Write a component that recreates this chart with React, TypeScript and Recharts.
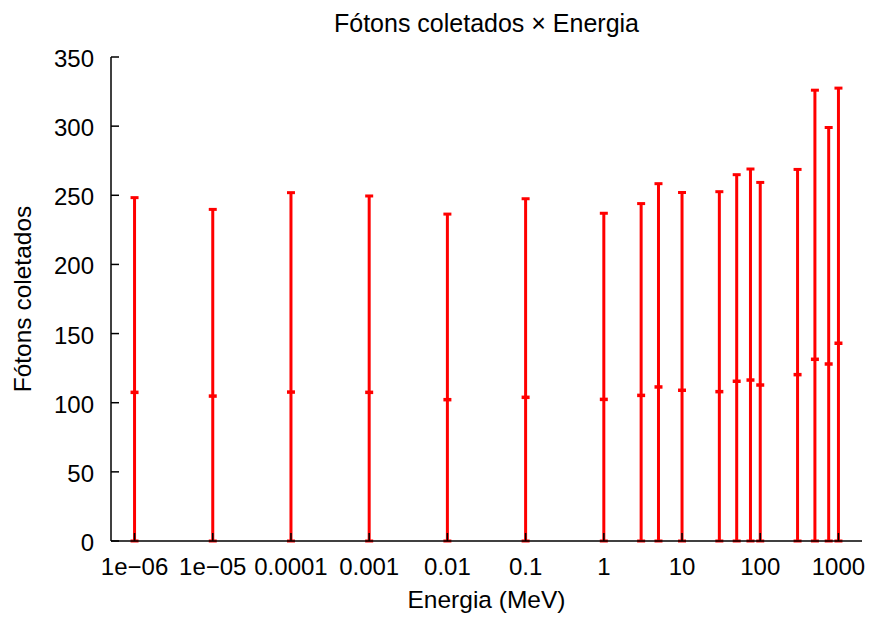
import { ScatterChart, Scatter, XAxis, YAxis, ErrorBar, Label } from "recharts";

// energia do fóton incidente (MeV)
const energies = [1e-6, 1e-5, 1e-4, 1e-3, 0.01, 0.1, 1, 3, 5, 10, 30, 50, 75, 100, 300, 500, 750, 1000];
// média de fótons coletados
const photons = [107.5, 104.8, 107.7, 107.5, 102.2, 103.9, 102.4, 105.3, 111.4, 109, 108, 115.5, 116.4, 112.8, 120.3, 131.4, 128, 143];
// mínimo e máximo observados
const photonsMin = [0, 0, 0, 0, 0, 0, 0, 0, 0, 0, 0, 0, 0, 0, 0, 0, 0, 0];
const photonsMax = [248.3, 239.8, 251.9, 249.5, 236.4, 247.5, 237, 244, 258.4, 252, 252.6, 264.9, 269, 259.3, 268.7, 326, 299, 327.5];

const xTicks = [1e-6, 1e-5, 1e-4, 1e-3, 0.01, 0.1, 1, 10, 100, 1000];
const xTickLabels = ["1e\u221206", "1e\u221205", "0.0001", "0.001", "0.01", "0.1", "1", "10", "100", "1000"];
const yTicks = [0, 50, 100, 150, 200, 250, 300, 350];

const data = energies.map((e, i) => ({
  energy: e,
  photons: photons[i],
  err: [photons[i] - photonsMin[i], photonsMax[i] - photons[i]],
}));

const FONT = "'Liberation Sans', Arial, Helvetica, sans-serif";
const RED = "#ff0000";
const TICK = 8;
const AXIS_W = 1.5;
const TICK_FONT = 24;
const LABEL_FONT = 24.5;

const xLabel = (v: number) => {
  const i = xTicks.findIndex((t) => Math.abs(Math.log10(t) - Math.log10(v)) < 1e-6);
  return i >= 0 ? xTickLabels[i] : String(v);
};

const BottomTick = (props: any) => {
  const { x, y, payload } = props;
  return (
    <g>
      <line x1={x} y1={y} x2={x} y2={y - TICK} stroke="#000" strokeWidth={AXIS_W} />
      <text x={x} y={y + 34} textAnchor="middle" fontSize={TICK_FONT} fontFamily={FONT} fill="#000">
        {xLabel(payload.value)}
      </text>
    </g>
  );
};

const TopTick = (props: any) => {
  const { x, y } = props;
  return <line x1={x} y1={y} x2={x} y2={y + TICK} stroke="#000" strokeWidth={AXIS_W} />;
};

const LeftTick = (props: any) => {
  const { x, y, payload } = props;
  return (
    <g>
      <line x1={x} y1={y} x2={x + TICK} y2={y} stroke="#000" strokeWidth={AXIS_W} />
      <text x={x - 17} y={y} dy={10} textAnchor="end" fontSize={TICK_FONT} fontFamily={FONT} fill="#000">
        {payload.value}
      </text>
    </g>
  );
};

const RightTick = (props: any) => {
  const { x, y } = props;
  return <line x1={x} y1={y} x2={x - TICK} y2={y} stroke="#000" strokeWidth={AXIS_W} />;
};

// rótulo vertical, centrado na altura do gráfico
const YTitle = (props: any) => {
  const { viewBox } = props;
  const cx = 31;
  const cy = viewBox.y + viewBox.height / 2;
  return (
    <text
      x={cx}
      y={cy}
      transform={`rotate(-90, ${cx}, ${cy})`}
      textAnchor="middle"
      fontSize={LABEL_FONT}
      fontFamily={FONT}
      fill="#000"
    >
      Fótons coletados
    </text>
  );
};

// marca do valor médio
const MeanMark = (props: any) => {
  const { cx, cy } = props;
  return <line x1={cx - 4} y1={cy} x2={cx + 4} y2={cy} stroke={RED} strokeWidth={3.5} />;
};

export default function App() {
  return (
    <div style={{ position: "absolute", left: 0, top: 0, width: 873, height: 620, background: "#fff", fontFamily: FONT }}>
      <div
        style={{
          position: "absolute",
          left: 0,
          width: 973,
          top: 11,
          textAlign: "center",
          fontSize: 25,
          lineHeight: 1,
          color: "#000",
        }}
      >
        Fótons coletados × Energia
      </div>
      <ScatterChart width={873} height={620} margin={{ top: 57, right: 11, bottom: 0, left: 0 }}>
        <XAxis
          xAxisId="bottom"
          dataKey="energy"
          type="number"
          scale="log"
          domain={[5e-7, 2000]}
          allowDataOverflow
          ticks={xTicks}
          interval={0}
          height={79}
          tickSize={0}
          tickMargin={0}
          tickLine={false}
          tick={<BottomTick />}
          axisLine={{ stroke: "#000", strokeWidth: AXIS_W }}
        >
          <Label value="Energia (MeV)" position="insideBottom" offset={12} fontSize={LABEL_FONT} fontFamily={FONT} fill="#000" />
        </XAxis>
        <XAxis
          xAxisId="top"
          orientation="top"
          type="number"
          scale="log"
          domain={[5e-7, 2000]}
          allowDataOverflow
          ticks={xTicks}
          interval={0}
          height={0}
          tickSize={0}
          tickMargin={0}
          tickLine={false}
          tick={<TopTick />}
          axisLine={{ stroke: "#000", strokeWidth: AXIS_W }}
        />
        <YAxis
          yAxisId="left"
          dataKey="photons"
          type="number"
          domain={[0, 350]}
          ticks={yTicks}
          interval={0}
          width={111}
          tickSize={0}
          tickMargin={0}
          tickLine={false}
          tick={<LeftTick />}
          axisLine={{ stroke: "#000", strokeWidth: AXIS_W }}
        >
          <Label content={<YTitle />} />
        </YAxis>
        <YAxis
          yAxisId="right"
          orientation="right"
          type="number"
          domain={[0, 350]}
          ticks={yTicks}
          interval={0}
          width={0}
          tickSize={0}
          tickMargin={0}
          tickLine={false}
          tick={<RightTick />}
          axisLine={{ stroke: "#000", strokeWidth: AXIS_W }}
        />
        <Scatter
          data={data}
          xAxisId="bottom"
          yAxisId="left"
          dataKey="photons"
          fill={RED}
          shape={<MeanMark />}
          isAnimationActive={false}
        >
          <ErrorBar dataKey="err" direction="y" width={4} strokeWidth={3} stroke={RED} isAnimationActive={false} />
        </Scatter>
      </ScatterChart>
    </div>
  );
}
